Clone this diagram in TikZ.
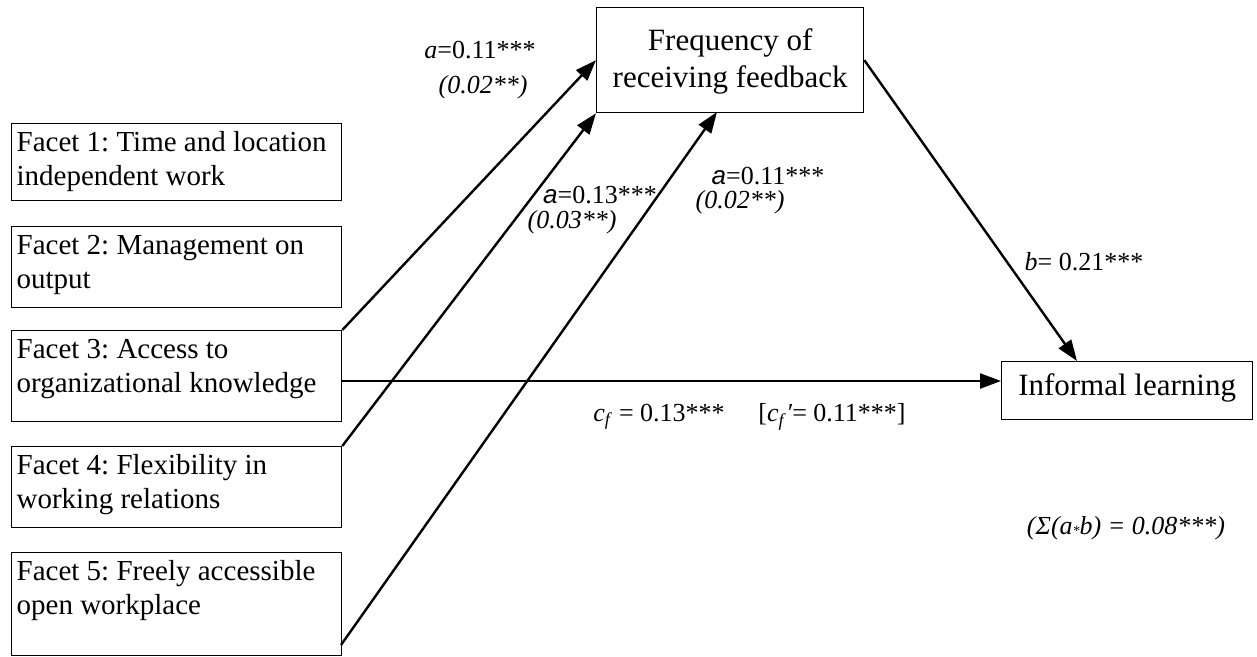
\documentclass[tikz,border=0pt]{standalone}
\usepackage{fontspec}
\setmainfont{Liberation Serif}
\newfontfamily\lsans{Liberation Sans}
\usetikzlibrary{arrows.meta}
\frenchspacing
\tikzset{
 boxst/.style={draw, line width=1.3pt, inner sep=0pt, anchor=north west},
 arr/.style={line width=2.4pt, -{Triangle[length=21pt,width=15pt]}},
 lab/.style={inner sep=0pt, font=\fontsize{26}{30}\selectfont},
}
\newcommand{\facettext}[3]{\parbox[c][#1][t]{330pt}{\fontsize{29}{33.5}\selectfont\frenchspacing\raggedright\leftskip=5pt\rule{0pt}{28pt}#2\\#3}}
\begin{document}
\begin{tikzpicture}[x=1pt,y=-1pt]
\useasboundingbox (0,0) rectangle (1257,656);
% facet boxes
\node[boxst] (f1) at (11,123) {\facettext{77pt}{Facet 1: Time and location}{independent work}};
\node[boxst] (f2) at (11,226) {\facettext{81pt}{Facet 2: Management on}{output}};
\node[boxst] (f3) at (11,330) {\facettext{91pt}{Facet 3: Access to}{organizational knowledge}};
\node[boxst] (f4) at (11,446) {\facettext{81pt}{Facet 4: Flexibility in}{working relations}};
\node[boxst] (f5) at (11,552) {\facettext{103pt}{Facet 5: Freely accessible}{open workplace}};
% mediator and outcome
\node[boxst] (freq) at (596,7) {\parbox[c][105pt][t]{267pt}{\centering\fontsize{31}{37}\selectfont\rule{0pt}{43pt}Frequency of\\receiving feedback}};
\node[boxst] (il) at (1001,361) {\parbox[c][58pt][t]{251pt}{\centering\fontsize{31}{37}\selectfont\rule{0pt}{34pt}Informal learning}};
% connector end points
\coordinate (s5) at (341,645);
\coordinate (t3) at (717,112);
\coordinate (tb) at (1077,361);
\coordinate (s3) at (341,381);
\coordinate (th) at (1001,381);
% connectors
\draw[arr] (f3.north east) -- (freq.west);
\draw[arr] (f4.north east) -- (freq.south west);
\draw[arr] (s5) -- (t3);
\draw[arr] (freq.east) -- (tb);
\draw[arr] (s3) -- (th);
% labels
\node[lab] (l1a) at (480,50) {\textit{a}=0.11***};
\node[lab] (l1b) at (483,87) {\textit{(0.02**)}};
\node[lab] (l2a) at (600,195) {{\lsans\itshape a}=0.13***};
\node[lab] (l2b) at (572,222) {\textit{(0.03**)}};
\node[lab] (l3a) at (768,176) {{\lsans\itshape a}=0.11***};
\node[lab] (l3b) at (740,202) {\textit{(0.02**)}};
\node[lab] (lb) at (1084,262) {\textit{b}= 0.21***};
\node[lab] (lc) at (659,417) {\textit{c}\textsubscript{\textit{f}} = 0.13***};
\node[lab] (lc2) at (832,417) {[\textit{c}\textsubscript{\textit{f}}\textit{′}= 0.11***]};
\node[lab] (ls) at (1126,528) {\textit{(Σ(a\raisebox{-1pt}{\fontsize{14}{14}\selectfont *}b) = 0.08***)}};
\end{tikzpicture}
\end{document}
